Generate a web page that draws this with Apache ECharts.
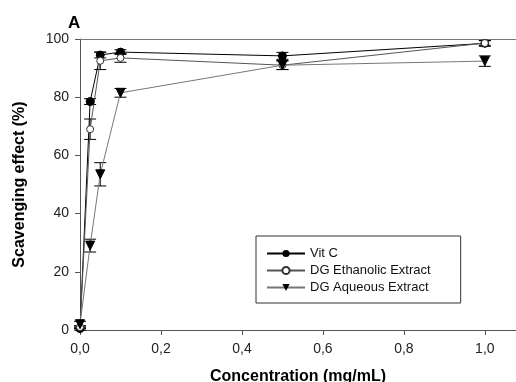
<!DOCTYPE html>
<html>
<head>
<meta charset="utf-8">
<script src="https://cdn.jsdelivr.net/npm/echarts@6/dist/echarts.min.js"></script>
<style>
  html, body { margin: 0; padding: 0; background: #fff; }
  #chart { width: 516px; height: 382px; }
</style>
</head>
<body>
<div id="chart"></div>
<script>
// concentrations (mg/mL)
var conc = [0, 0.025, 0.05, 0.1, 0.5, 1.0]

// scavenging effect (%) and error
var vitC = [0.5, 78.5, 94.5, 95.5, 94.2, 98.5]
var vitCErr = [0.5, 1, 1, 0.8, 1.2, 1]
var ethanolic = [1, 69, 92.5, 93.5, 91, 98.6]
var ethanolicErr = [0.5, 3.5, 3, 1.5, 1.5, 0.8]
var aqueous = [2, 29, 53.5, 81.5, 91, 92.4]
var aqueousErr = [1, 2.2, 4, 1.5, 1.5, 1.8]

var seriesNames = ['Vit C', 'DG Ethanolic Extract', 'DG Aqueous Extract']

var fontFam = 'Liberation Sans, Arial, sans-serif'

var myChart = echarts.init(document.getElementById('chart'))

function pairs(ys) {
  return conc.map(function (x, i) { return [x, ys[i]] })
}

function errData(ys, es) {
  return conc.map(function (x, i) { return [x, ys[i] - es[i], ys[i] + es[i]] })
}

// error bars drawn through the axis scales
function renderErr(params, api) {
  var lo = api.coord([api.value(0), api.value(1)])
  var hi = api.coord([api.value(0), api.value(2)])
  var w = 6
  var st = { stroke: '#000', lineWidth: 1 }
  return {
    type: 'group',
    children: [
      { type: 'line', shape: { x1: lo[0], y1: lo[1], x2: hi[0], y2: hi[1] }, style: st },
      { type: 'line', shape: { x1: lo[0] - w, y1: lo[1], x2: lo[0] + w, y2: lo[1] }, style: st },
      { type: 'line', shape: { x1: hi[0] - w, y1: hi[1], x2: hi[0] + w, y2: hi[1] }, style: st }
    ]
  }
}

function errSeries(ys, es) {
  return {
    type: 'custom',
    renderItem: renderErr,
    data: errData(ys, es),
    encode: { x: 0, y: [1, 2] },
    silent: true,
    clip: false,
    z: 1
  }
}

var option = {
  animation: false,
  backgroundColor: '#fff',
  title: {
    text: 'A',
    left: 63,
    top: 10,
    textStyle: { fontFamily: fontFam, fontSize: 17, fontWeight: 'bold', color: '#000' }
  },
  grid: { left: 80, top: 39, right: 0, bottom: 52, outerBoundsMode: 'none' },
  legend: {
    data: seriesNames,
    orient: 'vertical',
    left: 256,
    top: 236,
    padding: [11, 30, 9, 10],
    itemWidth: 38,
    itemHeight: 9,
    itemGap: 4,
    borderColor: '#333',
    borderWidth: 1,
    textStyle: { fontFamily: fontFam, fontSize: 13, color: '#111' }
  },
  xAxis: [{
    type: 'value',
    min: 0,
    max: 1.077,
    interval: 0.2,
    name: 'Concentration (mg/mL)',
    nameLocation: 'middle',
    nameGap: 39,
    nameTextStyle: { fontFamily: fontFam, fontSize: 16, fontWeight: 'bold', color: '#000' },
    axisLine: { lineStyle: { color: '#555' } },
    axisTick: { length: 5, lineStyle: { color: '#555' } },
    axisLabel: {
      margin: 12,
      fontFamily: fontFam,
      fontSize: 14,
      color: '#222',
      showMaxLabel: false,
      formatter: function (v) {
        if (v > 1.001) return ''
        return v.toFixed(1).replace('.', ',')
      }
    },
    splitLine: { show: false }
  }, {
    type: 'value',
    position: 'top',
    min: 0,
    max: 1.077,
    axisLine: { show: true, lineStyle: { color: '#777' } },
    axisTick: { show: false },
    axisLabel: { show: false },
    splitLine: { show: false }
  }],
  yAxis: {
    type: 'value',
    min: 0,
    max: 100,
    interval: 20,
    name: 'Scavenging effect (%)',
    nameLocation: 'middle',
    nameGap: 52,
    nameTextStyle: { fontFamily: fontFam, fontSize: 16, fontWeight: 'bold', color: '#000' },
    axisLine: { show: true, lineStyle: { color: '#555' } },
    axisTick: { show: true, length: 5, lineStyle: { color: '#555' } },
    axisLabel: { margin: 11, fontFamily: fontFam, fontSize: 14, color: '#222' },
    splitLine: { show: false }
  },
  series: [
    errSeries(vitC, vitCErr),
    errSeries(ethanolic, ethanolicErr),
    errSeries(aqueous, aqueousErr),
    {
      name: seriesNames[0],
      type: 'line',
      data: pairs(vitC),
      symbol: 'circle',
      symbolSize: 8,
      clip: false,
      lineStyle: { color: '#000', width: 1 },
      itemStyle: { color: '#000', borderColor: '#000' },
      z: 3
    },
    {
      name: seriesNames[1],
      type: 'line',
      data: pairs(ethanolic),
      symbol: 'circle',
      symbolSize: 7,
      clip: false,
      lineStyle: { color: '#555', width: 1 },
      itemStyle: { color: '#fff', borderColor: '#333', borderWidth: 1 },
      z: 3
    },
    {
      name: seriesNames[2],
      type: 'line',
      data: pairs(aqueous),
      symbol: 'triangle',
      symbolRotate: 180,
      symbolSize: 9,
      clip: false,
      lineStyle: { color: '#777', width: 1 },
      itemStyle: { color: '#000', borderColor: '#000' },
      z: 3
    }
  ]
}

myChart.setOption(option)
</script>
</body>
</html>
